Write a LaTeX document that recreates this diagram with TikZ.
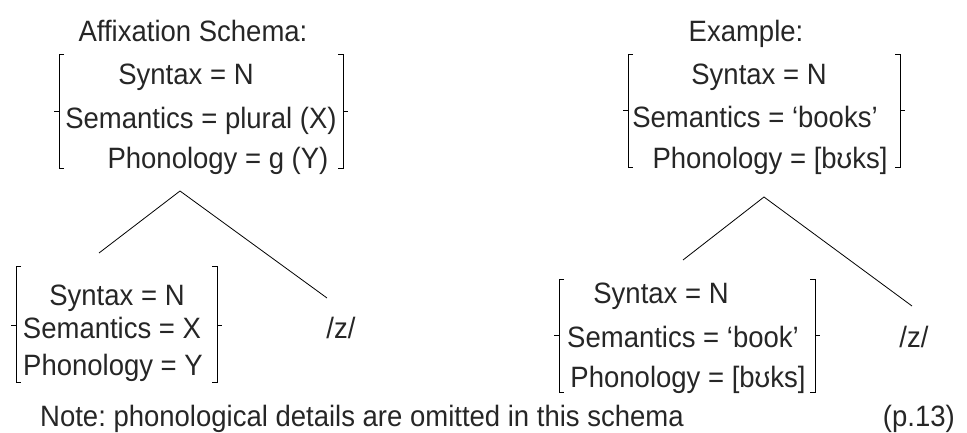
\documentclass[tikz,border=0pt]{standalone}
\usepackage{fontspec}
\usepackage{graphicx}
\setmainfont{Liberation Sans}
\frenchspacing
\begin{document}
\begin{tikzpicture}[x=1pt,y=-1pt,
  txt/.style={anchor=base,inner sep=0pt,text=black!85,font=\fontsize{27.5}{32}\selectfont},
  brk/.style={line width=0.8pt,black},
  branch/.style={line width=0.8pt,black}]
\useasboundingbox (0,0) rectangle (967,433);
\newcommand\avmbr[5]{% left x, right x, top, bottom, mid
  \draw[brk] (#1+5,#3) -- (#1,#3) -- (#1,#4) -- (#1+5,#4);
  \draw[brk] (#1,#5) -- (#1-5,#5);
  \draw[brk] (#2-5,#3) -- (#2,#3) -- (#2,#4) -- (#2-5,#4);
  \draw[brk] (#2,#5) -- (#2+5,#5);}
\newcommand\tall[1]{\scalebox{1}[1.07]{#1}}
% titles
\node[txt] (t1) at (193,42) {\tall{Affixation Schema:}};
\node[txt] (t2) at (746,42) {\tall{Example:}};
% top-left AVM
\avmbr{59}{343}{54}{168}{111}
\node[txt] (a1) at (186,85) {\tall{Syntax = N}};
\node[txt] (a2) at (201,129) {\tall{Semantics = plural (X)}};
\node[txt] (a3) at (218,168) {\tall{Phonology = g (Y)}};
% top-right AVM
\avmbr{628}{900}{54}{167}{110}
\node[txt] (b1) at (759,85) {\tall{Syntax = N}};
\node[txt] (b2) at (755,128) {\tall{Semantics = ‘books’}};
\node[txt] (b3) at (770,168) {\tall{Phonology = [bʊks]}};
% bottom-left AVM
\avmbr{16}{217}{266}{382}{325}
\node[txt] (c1) at (117,305) {\tall{Syntax = N}};
\node[txt] (c2) at (112,338) {\tall{Semantics = X}};
\node[txt] (c3) at (113,375) {\tall{Phonology = Y}};
\node[txt] (z1) at (341,338) {\tall{/z/}};
% bottom-right AVM
\avmbr{559}{815}{279}{392}{335}
\node[txt] (d1) at (661,303) {\tall{Syntax = N}};
\node[txt] (d2) at (683,347) {\tall{Semantics = ‘book’}};
\node[txt] (d3) at (688,387) {\tall{Phonology = [bʊks]}};
\node[txt] (z2) at (914,347) {\tall{/z/}};
% tree branches
\coordinate (apL) at (180,191);
\coordinate (lL) at (99,253);
\coordinate (rL) at (327,298);
\coordinate (apR) at (764,197);
\coordinate (lR) at (683,260);
\coordinate (rR) at (912,306);
\draw[branch] (lL) -- (apL) -- (rL);
\draw[branch] (lR) -- (apR) -- (rR);
% note
\node[txt,anchor=base west] (note) at (40,426) {\tall{Note: phonological details are omitted in this schema}};
\node[txt,anchor=base east] (pg) at (955,426) {\tall{(p.13)}};
\end{tikzpicture}
\end{document}
